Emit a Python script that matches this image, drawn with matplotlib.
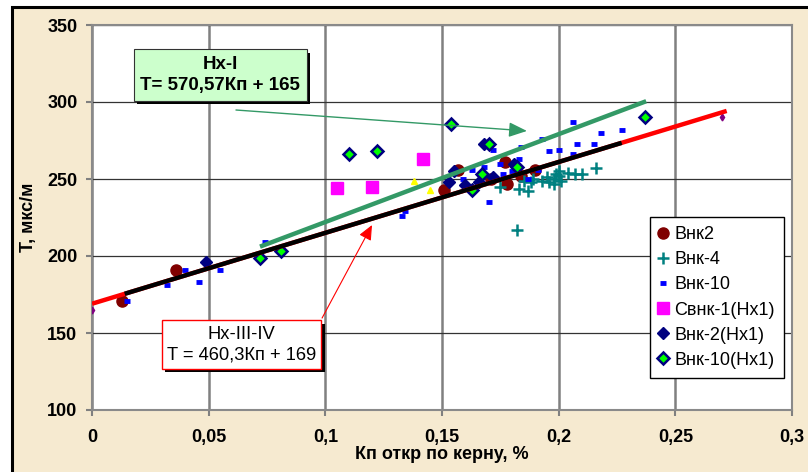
import matplotlib
matplotlib.use("Agg")
import matplotlib.pyplot as plt
import matplotlib.patheffects as pe
import numpy as np
from matplotlib.patches import Rectangle
from matplotlib.ticker import FuncFormatter, MultipleLocator

plt.rcParams["font.family"] = ["Liberation Sans", "DejaVu Sans"]

# --- data ------------------------------------------------------------------
vnk2_x = [0.013, 0.036, 0.151, 0.157, 0.171, 0.177, 0.178, 0.184, 0.190]
vnk2_y = [171, 191, 243, 256, 250, 261, 247, 252, 256]

vnk4_x = [0.175, 0.183, 0.187, 0.182, 0.188, 0.193, 0.198, 0.198, 0.200, 0.204,
          0.207, 0.210, 0.216, 0.185, 0.189, 0.196, 0.200, 0.201, 0.195, 0.199]
vnk4_y = [245, 243.5, 242, 217, 248, 249, 250, 247, 255, 254,
          253, 253, 257, 249, 250, 248, 252, 249, 251, 253]

vnk10_x = [0.015, 0.032, 0.040, 0.046, 0.055, 0.074, 0.133, 0.134, 0.206, 0.218,
           0.227, 0.208, 0.215, 0.196, 0.200, 0.206, 0.193, 0.184, 0.183, 0.180,
           0.175, 0.172, 0.170, 0.168, 0.163, 0.187, 0.191, 0.159, 0.176]
vnk10_y = [171, 181, 191, 183, 191, 209, 226, 229, 287, 280,
           282, 273, 273, 268, 269, 266, 276, 271, 263, 255,
           260, 269, 235, 258, 256, 250, 256, 250, 253]

svnk1_x = [0.105, 0.120, 0.142]
svnk1_y = [244, 245, 263]

vnk2_nx1_x = [0.049, 0.155, 0.160, 0.168, 0.172, 0.181, 0.166, 0.153]
vnk2_nx1_y = [196, 255, 246, 273, 251, 260, 248, 248]

vnk10_nx1_x = [0.072, 0.081, 0.110, 0.122, 0.154, 0.163, 0.167, 0.170, 0.182, 0.237]
vnk10_nx1_y = [199, 203, 266, 268, 286, 243, 253, 273, 258, 290]

extra_yellow_x = [0.138, 0.145]
extra_yellow_y = [249, 243]
extra_purple_x = [0.0, 0.270]
extra_purple_y = [165, 290]

# trend lines: T = a*Kp + b
nx34_coef = [460.3, 169]
nx34_range = [0.0, 0.272]
black_range = [0.014, 0.227]
nx1_coef = [570.57, 165]
nx1_range = [0.072, 0.2375]

# --- figure -------------------------------------------------------------------
W, H = 808, 472
fig = plt.figure(figsize=(W / 100, H / 100), dpi=100)
fig.patch.set_facecolor("white")
fig.add_artist(Rectangle((12 / W, -0.01), 1.0, 1 - 7 / H + 0.01,
                         transform=fig.transFigure, facecolor="#F6EAD0",
                         edgecolor="black", lw=2.2, zorder=-10))

ax = fig.add_axes([92 / W, 1 - 410 / H, 700 / W, 385 / H])
ax.set_facecolor("white")
ax.set_xlim(0, 0.3)
ax.set_ylim(100, 350)
ax.xaxis.set_major_locator(MultipleLocator(0.05))
ax.yaxis.set_major_locator(MultipleLocator(50))
ax.xaxis.set_major_formatter(FuncFormatter(lambda v, p: f"{v:.2f}".rstrip("0").rstrip(".").replace(".", ",")))
ax.yaxis.set_major_formatter(FuncFormatter(lambda v, p: f"{v:.0f}"))

ax.xaxis.grid(True, color="#808080", lw=1.8, zorder=0)
ax.yaxis.grid(True, color="#333333", lw=0.9, zorder=0)
ax.set_axisbelow(True)
for s in ax.spines.values():
    s.set_color("#8a8a8a")
    s.set_linewidth(1.5)
ax.tick_params(axis="both", direction="out", length=4, width=1.5, color="#808080",
               labelsize=13)
ax.tick_params(axis="y", pad=6.5)
ax.tick_params(axis="x", pad=9.5)
for lbl in ax.get_xticklabels() + ax.get_yticklabels():
    lbl.set_fontweight("bold")

ax.set_xlabel("Кп откр по керну, %", fontsize=13, fontweight="bold", labelpad=0)
ax.set_ylabel("T, мкс/м", fontsize=13, fontweight="bold", labelpad=7)

# --- points -------------------------------------------------------------------
ax.plot(vnk2_x, vnk2_y, "o", color="#800000", ms=8, mec="#800000", ls="none", label="Внк2", zorder=3)
ax.plot(vnk4_x, vnk4_y, "+", color="#008080", ms=8, mew=1.8, ls="none", label="Внк-4", zorder=3)
ax.plot(vnk10_x, vnk10_y, "_", color="#0000FF", ms=5, mew=3.5, ls="none", label="Внк-10", zorder=3)
ax.plot(svnk1_x, svnk1_y, "s", color="#FF00FF", ms=8, mec="#FF00FF", ls="none", label="Свнк-1(Нх1)", zorder=3)
ax.plot(vnk2_nx1_x, vnk2_nx1_y, "D", color="#000080", ms=6.5, mec="#000080", ls="none", label="Внк-2(Нх1)", zorder=3)
ax.plot(vnk10_nx1_x, vnk10_nx1_y, "D", color="#00FF00", ms=6.5, mec="#000080", mew=1.8, ls="none",
        label="Внк-10(Нх1)", zorder=3)
ax.plot(extra_yellow_x, extra_yellow_y, "^", color="#FFFF00", ms=5, ls="none", zorder=3)
ax.plot(extra_purple_x, extra_purple_y, "d", color="#800080", ms=3.5, ls="none", zorder=3)

# --- trend lines ----------------------------------------------------------------
xr = np.array(nx34_range)
ax.plot(xr, np.polyval(nx34_coef, xr), color="#FF0000", lw=3.2, solid_capstyle="butt", zorder=4)
xb = np.array(black_range)
ax.plot(xb, np.polyval(nx34_coef, xb), color="black", lw=3.2, solid_capstyle="butt", zorder=4)
xg = np.array(nx1_range)
ax.plot(xg, np.polyval(nx1_coef, xg), color="#339966", lw=3.2, solid_capstyle="butt", zorder=4)

# --- annotations ----------------------------------------------------------------
shadow = [pe.SimplePatchShadow(offset=(2.5, -2.5), shadow_rgbFace="black", alpha=1), pe.Normal()]

t1 = ax.text(0.0549, 317.5, "Нх-I\nT= 570,57Кп + 165", ha="center", va="center",
             fontsize=13.5, fontweight="bold", linespacing=1.35, zorder=6,
             bbox=dict(boxstyle="square,pad=0.35", facecolor="#CCFFCC", edgecolor="#333333", lw=0.8))
t1.get_bbox_patch().set_path_effects(shadow)
ax.annotate("", xy=(0.1864, 281.2), xytext=(0.0617, 294.8), zorder=5,
            arrowprops=dict(arrowstyle="-|>,head_length=1.1,head_width=0.45", color="#339966",
                            lw=1, shrinkA=0, shrinkB=0))

t2 = ax.text(0.0641, 142.5, "Нх-III-IV\nT = 460,3Кп + 169", ha="center", va="center",
             fontsize=13.2, linespacing=1.3, zorder=6,
             bbox=dict(boxstyle="square,pad=0.28", facecolor="white", edgecolor="#FF0000", lw=1))
t2.get_bbox_patch().set_path_effects(shadow)
ax.annotate("", xy=(0.120, 220.1), xytext=(0.0986, 159.7), zorder=5,
            arrowprops=dict(arrowstyle="-|>,head_length=0.9,head_width=0.4", color="#FF0000",
                            lw=0.8, shrinkA=0, shrinkB=0))

leg = ax.legend(loc="upper left", bbox_to_anchor=(0.797, 0.501), borderaxespad=0,
                fontsize=13, frameon=True, fancybox=False, framealpha=1,
                handlelength=0.5, handletextpad=0.35, labelspacing=0.45,
                borderpad=0.5, markerscale=1.0)
leg.get_frame().set_edgecolor("black")
leg.get_frame().set_linewidth(1)
leg.set_zorder(7)

fig.savefig("out.png", dpi=100)
